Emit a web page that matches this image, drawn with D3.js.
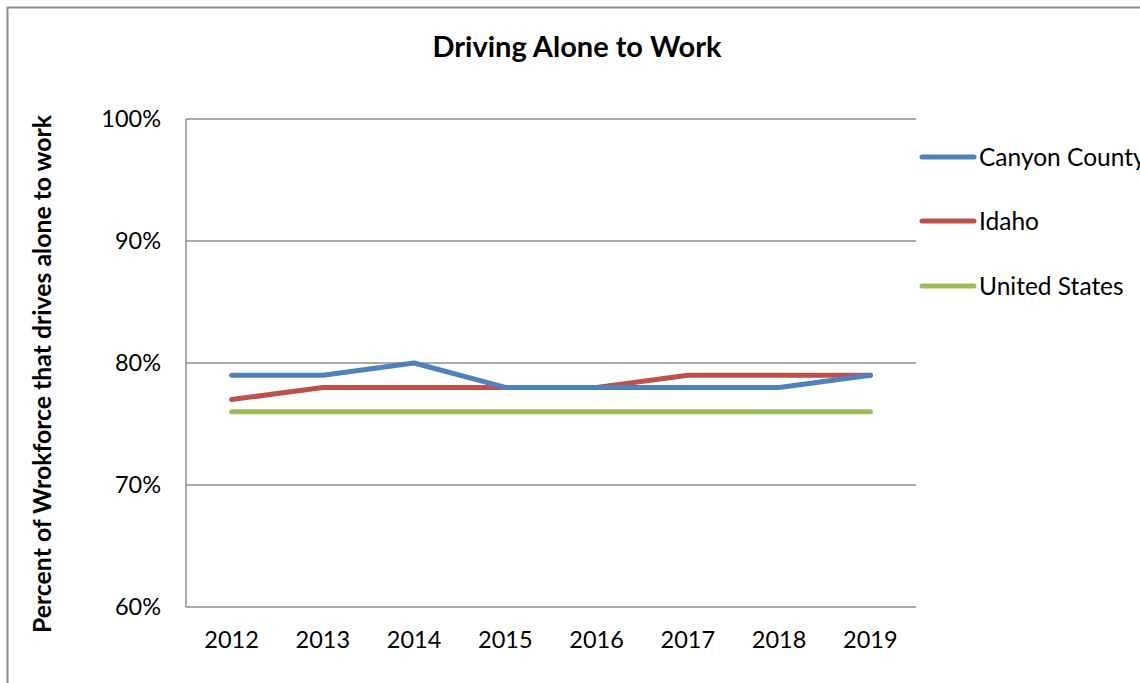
<!DOCTYPE html>
<html><head><meta charset="utf-8">
<script src="https://cdn.jsdelivr.net/npm/d3@7"></script>
<style>body{margin:0;background:#fff;overflow:hidden}svg{display:block}text{font-family:Lato,"Open Sans",sans-serif;fill:#000}</style>
</head><body>
<script>
const years = ["2012","2013","2014","2015","2016","2017","2018","2019"];
const canyonCounty = [79,79,80,78,78,78,78,79];
const idaho = [77,78,78,78,78,79,79,79];
const unitedStates = [76,76,76,76,76,76,76,76];
const seriesNames = ["Canyon County","Idaho","United States"];
const seriesColors = ["#4F81BD","#C0504D","#9BBB59"];
const yTicks = [60,70,80,90,100];

const W=1140,H=683;
const svg=d3.select("body").append("svg").attr("width",W).attr("height",H);
svg.append("rect").attr("x",7.5).attr("y",7.5).attr("width",1200).attr("height",800)
  .attr("fill","#fff").attr("stroke","#8c8c8c").attr("stroke-width",2);

const L=186,R=916,T=119,B=607;
const x=d3.scaleBand().domain(years).range([L,R]);
const y=d3.scaleLinear().domain([60,100]).range([B,T]);

svg.append("g").selectAll("line").data(yTicks).join("line")
  .attr("x1",L).attr("x2",R).attr("y1",d=>y(d)).attr("y2",d=>y(d))
  .attr("stroke","#8c8c8c").attr("stroke-width",1.5);
svg.append("line").attr("x1",L).attr("x2",L).attr("y1",T).attr("y2",B).attr("stroke","#8c8c8c").attr("stroke-width",1.5);

const yAxis=svg.append("g").attr("transform",`translate(${L},0)`)
  .call(d3.axisLeft(y).tickValues(yTicks).tickFormat(d=>d+"%").tickSize(0).tickPadding(25));
yAxis.select(".domain").remove();
yAxis.selectAll("text").style("font-size","23.5px").style("font-family","Lato");

const xAxis=svg.append("g").attr("transform",`translate(0,${B})`)
  .call(d3.axisBottom(x).tickSize(0).tickPadding(24));
xAxis.select(".domain").remove();
xAxis.selectAll("text").style("font-size","23.5px").style("font-family","Lato");

const data=[canyonCounty,idaho,unitedStates];
const line=d3.line().x((d,i)=>x(years[i])+x.bandwidth()/2).y(d=>y(d));
[2,1,0].forEach(k=>{
  svg.append("path").datum(data[k]).attr("d",line).attr("fill","none")
   .attr("stroke",seriesColors[k]).attr("stroke-width",5).attr("stroke-linecap","round").attr("stroke-linejoin","round");
});

svg.append("text").attr("x",577).attr("y",57).attr("text-anchor","middle")
  .style("font-size","29px").style("font-weight","bold").text("Driving Alone to Work");

svg.append("text").attr("transform","translate(51,374) rotate(-90)").attr("text-anchor","middle")
  .style("font-size","24.8px").style("font-weight","bold").text("Percent of Wrokforce that drives alone to work");

const legY=[157,221,286];
seriesNames.forEach((n,i)=>{
  svg.append("line").attr("x1",922).attr("x2",974).attr("y1",legY[i]).attr("y2",legY[i])
    .attr("stroke",seriesColors[i]).attr("stroke-width",5).attr("stroke-linecap","round");
  svg.append("text").attr("x",979).attr("y",legY[i]).attr("dy","0.35em").style("font-size","24.5px").text(n);
});
</script>
</body></html>
